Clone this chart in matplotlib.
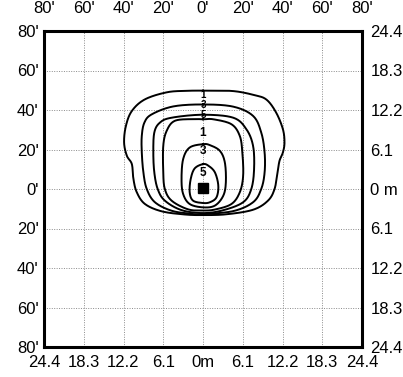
import numpy as np
import matplotlib
matplotlib.use("Agg")
import matplotlib.pyplot as plt

plt.rcParams['font.family'] = ['Liberation Sans', 'DejaVu Sans']

# Grid ticks in feet and their metric equivalents
ticks_ft = [-80, -60, -40, -20, 0, 20, 40, 60, 80]
labels_ft = ["80'", "60'", "40'", "20'", "0'", "20'", "40'", "60'", "80'"]
labels_m_x = ["24.4", "18.3", "12.2", "6.1", "0m", "6.1", "12.2", "18.3", "24.4"]
labels_m_y = ["24.4", "18.3", "12.2", "6.1", "0 m", "6.1", "12.2", "18.3", "24.4"]

# Isofootcandle outlines (x ft, y ft), traced clockwise from the top
iso_01 = [(0, 49.8), (15, 49.6), (26, 47.5), (32, 45.2), (36.8, 38.7), (40.2, 30.3),
          (41, 23.5), (40.2, 18.5), (38.5, 14.3), (37.5, 8.4), (36, 0), (32.7, -5.9),
          (25.2, -10.5), (11.8, -12.8), (0, -13.2), (-9.2, -12.9), (-20.8, -11.3),
          (-29.2, -7.6), (-33.3, -1.7), (-35, 5), (-35.8, 12.6), (-38.3, 16.8),
          (-39.7, 23.5), (-38.8, 31.9), (-35.8, 39.5), (-29.2, 45.4), (-18, 49), (-8, 49.7)]
iso_03 = [(0, 42.8), (15.2, 41.7), (25.2, 37), (29.3, 28.6), (31, 18.5), (31, 8.4),
          (29.3, 0), (25.2, -6.7), (15.2, -11.2), (0, -12.7), (-5.8, -12.6),
          (-15.8, -11), (-24.2, -6.7), (-28.3, 0), (-30, 8.4), (-30.8, 18.5),
          (-30.8, 26.9), (-29.5, 33.6), (-25.8, 37.8), (-15, 41.8)]
iso_05 = [(0, 37.6), (15.2, 36.1), (21.8, 30.3), (25.2, 21.8), (25.7, 10), (24.3, 0),
          (20.2, -6.7), (10, -10.8), (0, -12.2), (-10.8, -10.7), (-19.2, -5.9),
          (-22.8, 0), (-24.5, 8.4), (-25, 18.5), (-24.5, 28.6), (-21.7, 33.6), (-15.8, 36.1)]
iso_1 = [(0, 35.3), (5.2, 35.3), (14.3, 32.8), (18.5, 26.9), (19.8, 18.5), (20.2, 6.7),
         (18.5, -1.7), (14.3, -7.6), (6, -10.4), (0, -10.9), (-7.5, -10.3), (-15.8, -5.9),
         (-19.2, 0), (-20, 8.4), (-20, 21.8), (-18.3, 29.4), (-14.2, 34.5), (-5, 35.4)]
iso_3 = [(0, 22.7), (3.5, 22.2), (8.5, 19.3), (11, 13.4), (11.5, 3.4), (10.2, -3.4),
         (6, -8.4), (0, -9.3), (-6.7, -7.6), (-10, -2.5), (-10.8, 5), (-10, 15.1), (-6.7, 21)]
iso_5 = [(0, 12.6), (2.7, 11.8), (6, 8.4), (7.7, 1.7), (6.8, -4.2), (3.5, -6.7),
         (0, -7.1), (-5, -5.9), (-6.7, -1.7), (-6.2, 5), (-4.2, 10.4)]

contours = [iso_01, iso_03, iso_05, iso_1, iso_3, iso_5]
contour_labels = ["1", "3", "5", "1", "3", "5"]
label_y = [47.6, 42.6, 37.6, 28.6, 19.3, 8.1]
label_size = [7, 7, 7, 8.5, 8.5, 8.5]

luminaire_xy = (0.0, 0.5)
luminaire_size = 5.5


def closed_spline(pts, n=24):
    """Closed Catmull-Rom curve through the given points."""
    P = np.asarray(pts, dtype=float)
    N = len(P)
    t = np.linspace(0, 1, n, endpoint=False)[:, None]
    segs = []
    for i in range(N):
        p0, p1, p2, p3 = P[(i - 1) % N], P[i], P[(i + 1) % N], P[(i + 2) % N]
        segs.append(0.5 * (2 * p1 + (-p0 + p2) * t
                           + (2 * p0 - 5 * p1 + 4 * p2 - p3) * t ** 2
                           + (-p0 + 3 * p1 - 3 * p2 + p3) * t ** 3))
    out = np.vstack(segs)
    return np.vstack([out, out[:1]])


fig = plt.figure(figsize=(4.03, 3.77), dpi=100)
ax = fig.add_axes([44 / 403, 30 / 377, 318 / 403, 316 / 377])
ax.set_xlim(-80, 80)
ax.set_ylim(-80, 80)

# dotted grid
for v in ticks_ft[1:-1]:
    ax.axvline(v, color='#8a8a8a', lw=0.7, ls=(0, (1, 1.5)), zorder=1)
    ax.axhline(v, color='#8a8a8a', lw=0.7, ls=(0, (1, 1.5)), zorder=1)

for pts in contours:
    c = closed_spline(pts)
    ax.plot(c[:, 0], c[:, 1], color='black', lw=1.4, zorder=3)

for lab, y, sz in zip(contour_labels, label_y, label_size):
    ax.text(0, y, lab, ha='center', va='center', fontsize=sz, fontweight='bold',
            color='black', zorder=4)

lx, ly = luminaire_xy
ax.add_patch(plt.Rectangle((lx - luminaire_size / 2, ly - luminaire_size / 2),
                           luminaire_size, luminaire_size, color='black', zorder=5))

for s in ax.spines.values():
    s.set_linewidth(2.2)
    s.set_color('black')

fs = 12
ax.set_xticks(ticks_ft)
ax.set_xticklabels(labels_ft, fontsize=fs)
ax.set_yticks(ticks_ft)
ax.set_yticklabels(labels_ft, fontsize=fs)
ax.tick_params(axis='x', top=False, bottom=False, labeltop=True, labelbottom=False,
               length=0, pad=11)
ax.tick_params(axis='y', left=False, length=0, pad=4)

secx = ax.secondary_xaxis('bottom')
secx.set_xticks(ticks_ft)
secx.set_xticklabels(labels_m_x, fontsize=fs)
secx.tick_params(length=0, pad=6)
secx.spines['bottom'].set_visible(False)

secy = ax.secondary_yaxis('right')
secy.set_yticks(ticks_ft)
secy.set_yticklabels(labels_m_y, fontsize=fs)
secy.tick_params(length=0, pad=6)
secy.spines['right'].set_visible(False)

fig.savefig('out.png', dpi=100)
